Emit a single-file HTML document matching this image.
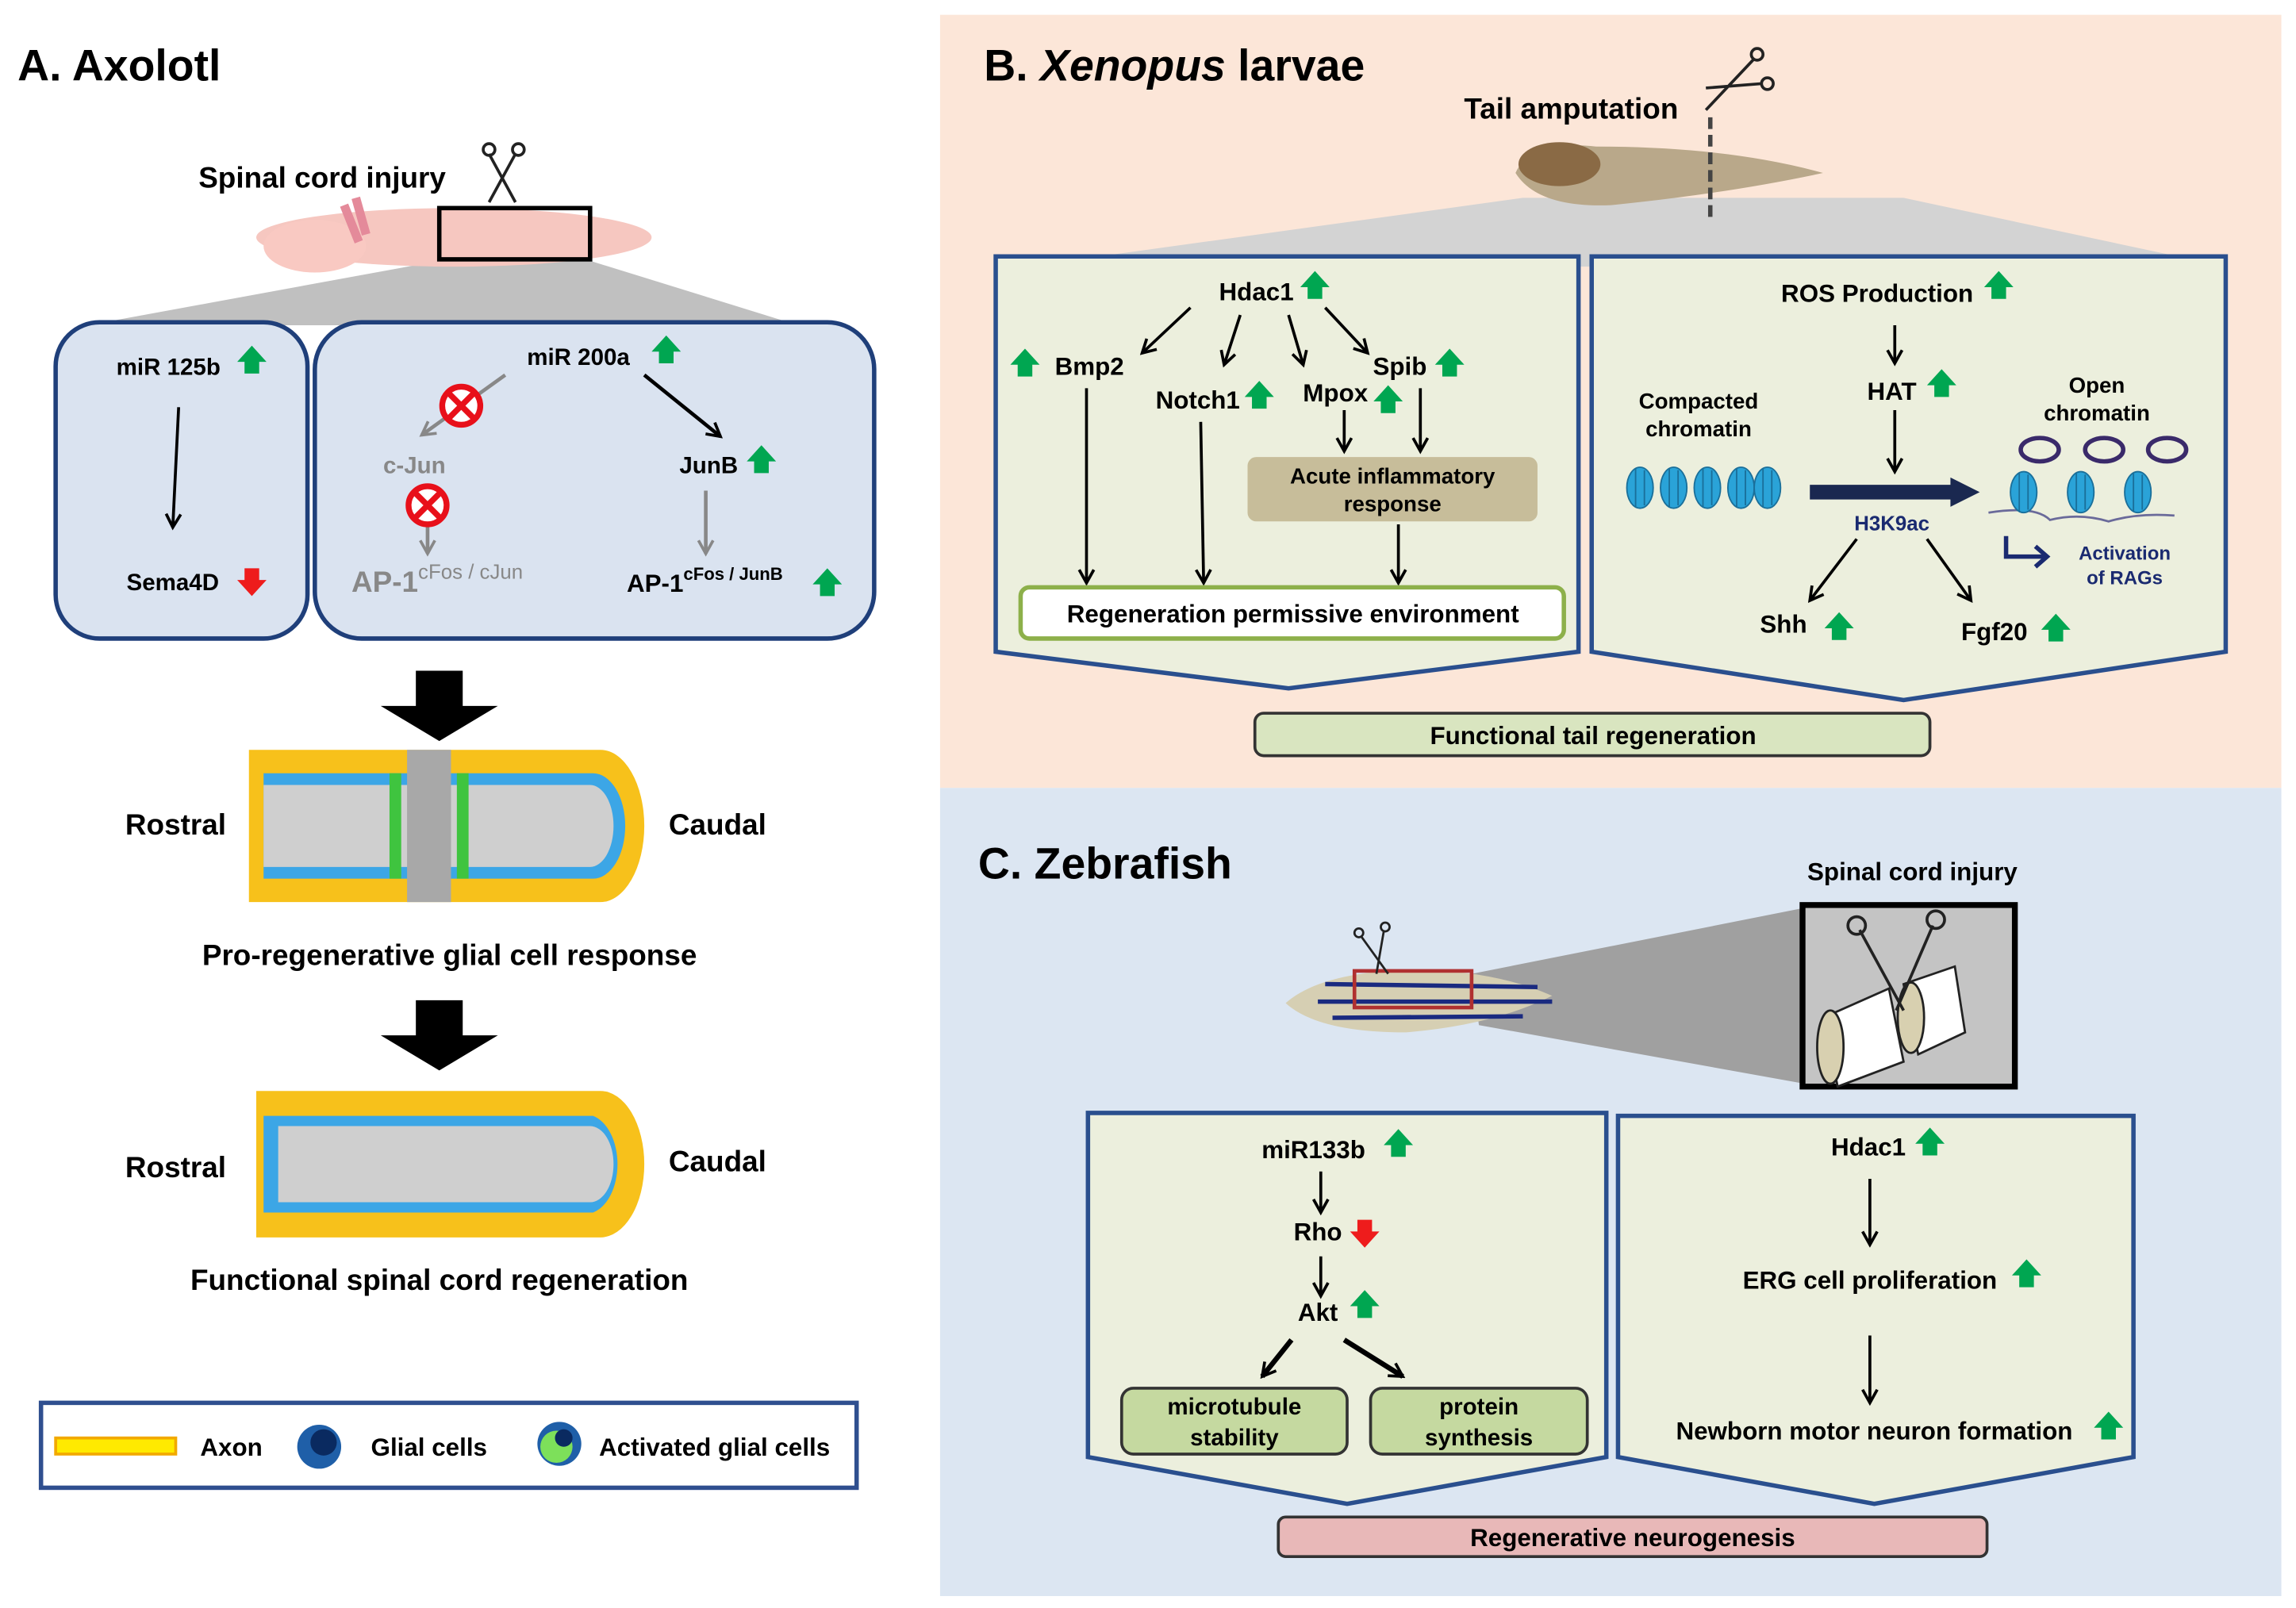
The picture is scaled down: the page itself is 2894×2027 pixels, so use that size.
<!DOCTYPE html>
<html><head><meta charset="utf-8"><style>html,body{margin:0;padding:0;background:#fff}svg{display:block}text{font-family:"Liberation Sans",sans-serif;font-weight:bold}</style></head>
<body>
<svg width="2894" height="2027" viewBox="0 0 1568 1098" xmlns="http://www.w3.org/2000/svg">
<defs>
<marker id="a" viewBox="0 0 12 12" refX="10" refY="6" markerWidth="12" markerHeight="12" markerUnits="userSpaceOnUse" orient="auto"><path d="M1,1 L10,6 L1,11" fill="none" stroke="#000" stroke-width="2"/></marker>
<marker id="g" viewBox="0 0 12 12" refX="10" refY="6" markerWidth="12" markerHeight="12" markerUnits="userSpaceOnUse" orient="auto"><path d="M1,1 L10,6 L1,11" fill="none" stroke="#888" stroke-width="2"/></marker>
<g id="up"><polygon points="-10,1 0,-10 10,1 5,1 5,9 -5,9 -5,1" fill="#00a651"/></g>
<g id="dn"><polygon points="-10,-1 0,10 10,-1 5,-1 5,-9 -5,-9 -5,-1" fill="#ee1c1c"/></g>
<g id="xx"><circle r="13" fill="#fff" stroke="#e8101a" stroke-width="4"/><path d="M-8,-8 L8,8 M8,-8 L-8,8" stroke="#e8101a" stroke-width="4"/></g>
<g id="nuc"><ellipse rx="9" ry="14" fill="#2aa3d8" stroke="#1a6f9a" stroke-width="1"/><path d="M-3,-13 L-3,13 M3,-12 L3,12" stroke="#1a6f9a" stroke-width="1"/></g>
</defs>
<!-- backgrounds -->
<rect x="642" y="10" width="916" height="528" fill="#fce6d8"/>
<rect x="642" y="538" width="916" height="552" fill="#dce6f2"/>

<!-- PANEL A -->
<text x="12" y="55" font-size="30">A.  Axolotl</text>
<text x="220" y="128" font-size="20" text-anchor="middle">Spinal cord injury</text>
<g stroke="#222" stroke-width="2" fill="none"><path d="M334,105 L352,138 M352,105 L334,138"/><circle cx="334" cy="102" r="4"/><circle cx="354" cy="102" r="4"/></g>
<polygon points="300,178 403,178 545,222 60,222" fill="#c0c0c0"/>
<ellipse cx="310" cy="162" rx="135" ry="20" fill="#f6c7c0"/>
<ellipse cx="215" cy="168" rx="35" ry="18" fill="#f9c9c2"/>
<path d="M235,140 L245,165 M243,135 L250,160" stroke="#e48a9a" stroke-width="6"/>
<rect x="300" y="142" width="103" height="35" fill="none" stroke="#000" stroke-width="3"/>
<rect x="38" y="220" width="172" height="216" rx="30" fill="#dae3f0" stroke="#1f3f7a" stroke-width="3"/>
<rect x="215" y="220" width="382" height="216" rx="32" fill="#dae3f0" stroke="#1f3f7a" stroke-width="3"/>
<text x="115" y="256" font-size="16" text-anchor="middle">miR 125b</text><use href="#up" x="172" y="246"/>
<line x1="122" y1="278" x2="118" y2="360" stroke="#000" stroke-width="2" marker-end="url(#a)"/>
<text x="118" y="403" font-size="16" text-anchor="middle">Sema4D</text><use href="#dn" x="172" y="397"/>
<text x="395" y="249" font-size="16" text-anchor="middle">miR 200a</text><use href="#up" x="455" y="239"/>
<line x1="345" y1="256" x2="288" y2="297" stroke="#888" stroke-width="2.5" marker-end="url(#g)"/>
<use href="#xx" x="315" y="277"/>
<text x="283" y="323" font-size="16" fill="#888" text-anchor="middle">c-Jun</text>
<line x1="292" y1="352" x2="292" y2="378" stroke="#888" stroke-width="2.5" marker-end="url(#g)"/>
<use href="#xx" x="292" y="345"/>
<text x="240" y="404" font-size="20" fill="#888">AP-1<tspan font-size="14" dy="-9" font-weight="normal">cFos / cJun</tspan></text>
<line x1="440" y1="256" x2="492" y2="298" stroke="#000" stroke-width="2.5" marker-end="url(#a)"/>
<text x="484" y="323" font-size="16" text-anchor="middle">JunB</text><use href="#up" x="520" y="314"/>
<line x1="482" y1="335" x2="482" y2="378" stroke="#888" stroke-width="2.5" marker-end="url(#g)"/>
<text x="428" y="404" font-size="17">AP-1<tspan font-size="12" dy="-8">cFos / JunB</tspan></text><use href="#up" x="565" y="398"/>
<polygon points="284,458 316,458 316,482 340,482 300,506 260,482 284,482" fill="#000"/>
<!-- cord 1 -->
<g>
<path d="M170,512 L410,512 A30,52 0 0 1 410,616 L170,616 Z" fill="#f7c11b"/>
<path d="M180,528 L405,528 A22,36 0 0 1 405,600 L180,600 Z" fill="#3ca6e6"/>
<path d="M180,536 L403,536 A16,28 0 0 1 403,592 L180,592 Z" fill="#cfcfcf"/>
<rect x="278" y="512" width="30" height="104" fill="#a8a8a8"/>
<rect x="266" y="528" width="8" height="72" fill="#3fc43f"/><rect x="312" y="528" width="8" height="72" fill="#3fc43f"/>
</g>
<text x="120" y="570" font-size="20" text-anchor="middle">Rostral</text>
<text x="490" y="570" font-size="20" text-anchor="middle">Caudal</text>
<text x="307" y="659" font-size="20" text-anchor="middle">Pro-regenerative glial cell response</text>
<polygon points="284,683 316,683 316,707 340,707 300,731 260,707 284,707" fill="#000"/>
<path d="M175,745 L410,745 A30,50 0 0 1 410,845 L175,845 Z" fill="#f7c11b"/>
<path d="M180,762 L405,762 A22,34 0 0 1 405,828 L180,828 Z" fill="#3ca6e6"/>
<path d="M190,769 L403,769 A16,26 0 0 1 403,821 L190,821 Z" fill="#cfcfcf"/>
<text x="120" y="804" font-size="20" text-anchor="middle">Rostral</text>
<text x="490" y="800" font-size="20" text-anchor="middle">Caudal</text>
<text x="300" y="881" font-size="20" text-anchor="middle">Functional  spinal cord regeneration</text>
<rect x="28" y="958" width="557" height="58" fill="#fff" stroke="#2f4f8f" stroke-width="3"/>
<rect x="38" y="982" width="82" height="11" fill="#ffea00" stroke="#f2a900" stroke-width="2"/>
<text x="158" y="994" font-size="17" text-anchor="middle">Axon</text>
<circle cx="218" cy="988" r="15" fill="#1f5fa8"/><circle cx="221" cy="985" r="9" fill="#0a2a60"/>
<text x="293" y="994" font-size="17" text-anchor="middle">Glial cells</text>
<circle cx="382" cy="986" r="15" fill="#1f5fa8"/><circle cx="380" cy="988" r="11" fill="#7de05a"/><circle cx="385" cy="982" r="6" fill="#0a2a60"/>
<text x="488" y="994" font-size="17" text-anchor="middle">Activated glial cells</text>

<!-- PANEL B -->
<text x="672" y="55" font-size="30">B. <tspan font-style="italic">Xenopus</tspan> larvae</text>
<text x="1073" y="81" font-size="20" text-anchor="middle">Tail amputation</text>
<g stroke="#222" stroke-width="2" fill="none"><path d="M1165,75 L1198,40 M1165,60 L1203,57"/><circle cx="1200" cy="37" r="4"/><circle cx="1207" cy="57" r="4"/></g>
<polygon points="1040,135 1300,135 1520,182 700,182" fill="#d3d3d3"/>
<path d="M1035,118 Q1045,95 1090,100 Q1180,100 1245,118 Q1180,132 1100,140 Q1050,142 1035,118 Z" fill="#b9a88a"/>
<ellipse cx="1065" cy="112" rx="28" ry="15" fill="#8a6a45"/>
<line x1="1168" y1="80" x2="1168" y2="150" stroke="#444" stroke-width="3" stroke-dasharray="8,4"/>
<polygon points="680,175 1078,175 1078,445 880,470 680,445" fill="#ecefdd" stroke="#2a4f8e" stroke-width="3"/>
<polygon points="1087,175 1520,175 1520,445 1300,478 1087,445" fill="#ecefdd" stroke="#2a4f8e" stroke-width="3"/>
<text x="858" y="205" font-size="17" text-anchor="middle">Hdac1</text><use href="#up" x="898" y="195"/>
<g stroke="#000" stroke-width="2" marker-end="url(#a)">
<line x1="813" y1="210" x2="780" y2="241"/><line x1="847" y1="215" x2="836" y2="249"/><line x1="880" y1="215" x2="890" y2="249"/><line x1="905" y1="210" x2="934" y2="241"/>
<line x1="742" y1="265" x2="742" y2="398"/><line x1="820" y1="288" x2="822" y2="398"/><line x1="918" y1="280" x2="918" y2="308"/><line x1="970" y1="265" x2="970" y2="308"/><line x1="955" y1="358" x2="955" y2="398"/>
<line x1="1294" y1="222" x2="1294" y2="248"/><line x1="1294" y1="280" x2="1294" y2="322"/>
<line x1="1268" y1="368" x2="1236" y2="410"/><line x1="1316" y1="368" x2="1346" y2="410"/>
</g>
<text x="744" y="256" font-size="17" text-anchor="middle">Bmp2</text><use href="#up" x="700" y="248"/>
<text x="818" y="279" font-size="17" text-anchor="middle">Notch1</text><use href="#up" x="860" y="270"/>
<text x="912" y="274" font-size="17" text-anchor="middle">Mpox</text><use href="#up" x="948" y="273"/>
<text x="956" y="256" font-size="17" text-anchor="middle">Spib</text><use href="#up" x="990" y="248"/>
<rect x="852" y="312" width="198" height="44" rx="6" fill="#c7bd9a"/>
<text x="951" y="330" font-size="15" text-anchor="middle">Acute inflammatory</text>
<text x="951" y="349" font-size="15" text-anchor="middle">response</text>
<rect x="697" y="401" width="371" height="35" rx="6" fill="#fff" stroke="#8db04a" stroke-width="3"/>
<text x="883" y="425" font-size="17" text-anchor="middle">Regeneration permissive environment</text>
<text x="1282" y="206" font-size="17" text-anchor="middle">ROS Production</text><use href="#up" x="1365" y="195"/>
<text x="1292" y="273" font-size="17" text-anchor="middle">HAT</text><use href="#up" x="1326" y="262"/>
<text x="1160" y="279" font-size="15" text-anchor="middle">Compacted</text>
<text x="1160" y="298" font-size="15" text-anchor="middle">chromatin</text>
<use href="#nuc" x="1120" y="333"/><use href="#nuc" x="1143" y="333"/><use href="#nuc" x="1166" y="333"/><use href="#nuc" x="1189" y="333"/><use href="#nuc" x="1207" y="333"/>
<line x1="1236" y1="336" x2="1334" y2="336" stroke="#1a2850" stroke-width="10"/>
<polygon points="1332,326 1352,336 1332,346" fill="#1a2850"/>
<text x="1292" y="362" font-size="14" fill="#1a2a70" text-anchor="middle">H3K9ac</text>
<text x="1432" y="268" font-size="15" text-anchor="middle">Open</text>
<text x="1432" y="287" font-size="15" text-anchor="middle">chromatin</text>
<g fill="none" stroke="#3a2a6a" stroke-width="3"><ellipse cx="1393" cy="307" rx="13" ry="8"/><ellipse cx="1437" cy="307" rx="13" ry="8"/><ellipse cx="1480" cy="307" rx="13" ry="8"/></g>
<path d="M1358,350 Q1390,345 1400,355 Q1420,350 1440,356 Q1460,350 1485,352" fill="none" stroke="#6a6a9a" stroke-width="1.5"/>
<use href="#nuc" x="1382" y="336"/><use href="#nuc" x="1421" y="336"/><use href="#nuc" x="1460" y="336"/>
<path d="M1370,366 L1370,380 L1398,380" fill="none" stroke="#1a2a70" stroke-width="3"/><path d="M1390,373 L1398,380 L1390,387" fill="none" stroke="#1a2a70" stroke-width="3"/>
<text x="1451" y="382" font-size="13" fill="#1a2a70" text-anchor="middle" font-weight="normal">Activation</text>
<text x="1451" y="399" font-size="13" fill="#1a2a70" text-anchor="middle" font-weight="normal">of  RAGs</text>
<text x="1218" y="432" font-size="17" text-anchor="middle">Shh</text><use href="#up" x="1256" y="428"/>
<text x="1362" y="437" font-size="17" text-anchor="middle">Fgf20</text><use href="#up" x="1404" y="429"/>
<rect x="857" y="487" width="461" height="29" rx="6" fill="#d9e5c0" stroke="#333" stroke-width="2"/>
<text x="1088" y="508" font-size="17" text-anchor="middle">Functional tail regeneration</text>

<!-- PANEL C -->
<text x="668" y="600" font-size="30">C. Zebrafish</text>
<text x="1306" y="601" font-size="17" text-anchor="middle">Spinal cord injury</text>
<polygon points="1005,665 1232,620 1232,740 1010,700" fill="#a0a0a0"/>
<rect x="1231" y="618" width="145" height="124" fill="#c4c4c4" stroke="#000" stroke-width="4"/>
<g stroke="#222" stroke-width="1.5" fill="#fff"><path d="M1245,695 L1290,675 L1300,725 L1255,742 Z" fill="#fff"/><ellipse cx="1250" cy="715" rx="9" ry="25" fill="#d8d0b0"/><path d="M1300,672 L1335,660 L1342,705 L1310,720 Z"/><ellipse cx="1305" cy="695" rx="9" ry="24" fill="#d8d0b0"/></g>
<g stroke="#222" stroke-width="2" fill="none"><path d="M1270,635 L1300,690 M1320,632 L1295,690"/><circle cx="1268" cy="632" r="6"/><circle cx="1322" cy="628" r="6"/></g>
<path d="M878,685 Q900,665 960,662 Q1020,662 1060,680 Q1020,700 960,705 Q900,705 878,685 Z" fill="#d6cfb3"/>
<g stroke="#1a2a80" stroke-width="3"><line x1="905" y1="672" x2="1050" y2="674"/><line x1="900" y1="684" x2="1060" y2="684"/><line x1="910" y1="695" x2="1040" y2="694"/></g>
<rect x="925" y="663" width="80" height="25" fill="none" stroke="#b03030" stroke-width="2.5"/>
<g stroke="#222" stroke-width="1.5" fill="none"><path d="M930,640 L948,665 M945,636 L940,665"/><circle cx="928" cy="637" r="3"/><circle cx="946" cy="633" r="3"/></g>
<polygon points="743,760 1097,760 1097,995 920,1027 743,995" fill="#ecefdd" stroke="#2a4f8e" stroke-width="3"/>
<polygon points="1105,762 1457,762 1457,995 1280,1027 1105,995" fill="#ecefdd" stroke="#2a4f8e" stroke-width="3"/>
<text x="897" y="791" font-size="17" text-anchor="middle">miR133b</text><use href="#up" x="955" y="781"/>
<text x="900" y="847" font-size="17" text-anchor="middle">Rho</text><use href="#dn" x="932" y="842"/>
<text x="900" y="902" font-size="17" text-anchor="middle">Akt</text><use href="#up" x="932" y="891"/>
<g stroke="#000" stroke-width="2" marker-end="url(#a)">
<line x1="902" y1="800" x2="902" y2="828"/><line x1="902" y1="858" x2="902" y2="885"/>
<line x1="1277" y1="805" x2="1277" y2="850"/><line x1="1277" y1="912" x2="1277" y2="958"/>
</g>
<g stroke="#000" stroke-width="3.5" marker-end="url(#a)"><line x1="882" y1="915" x2="862" y2="940"/><line x1="918" y1="915" x2="958" y2="940"/></g>
<rect x="766" y="948" width="154" height="45" rx="8" fill="#c5d9a0" stroke="#333" stroke-width="2"/>
<rect x="936" y="948" width="148" height="45" rx="8" fill="#c5d9a0" stroke="#333" stroke-width="2"/>
<text x="843" y="966" font-size="16" text-anchor="middle">microtubule</text><text x="843" y="987" font-size="16" text-anchor="middle">stability</text>
<text x="1010" y="966" font-size="16" text-anchor="middle">protein</text><text x="1010" y="987" font-size="16" text-anchor="middle">synthesis</text>
<text x="1276" y="789" font-size="17" text-anchor="middle">Hdac1</text><use href="#up" x="1318" y="780"/>
<text x="1277" y="880" font-size="17" text-anchor="middle">ERG cell proliferation</text><use href="#up" x="1384" y="870"/>
<text x="1280" y="983" font-size="17" text-anchor="middle">Newborn motor neuron formation</text><use href="#up" x="1440" y="974"/>
<rect x="873" y="1036" width="484" height="27" rx="5" fill="#e8b8b8" stroke="#333" stroke-width="2"/>
<text x="1115" y="1056" font-size="17" text-anchor="middle">Regenerative neurogenesis</text>
</svg>
</body></html>
